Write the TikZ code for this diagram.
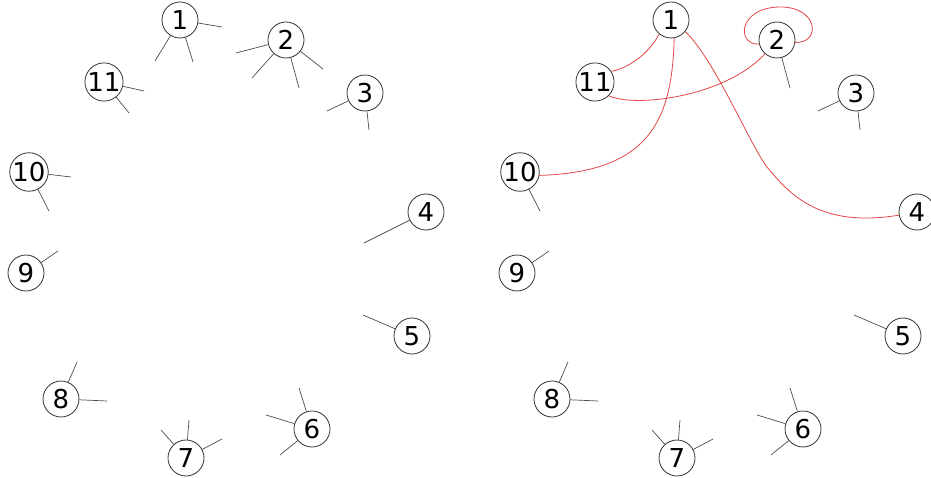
\documentclass[tikz,border=0pt]{standalone}
\usepackage{fontspec}
\setmainfont{DejaVu Sans}
\begin{document}
\begin{tikzpicture}[x=1pt,y=-1pt,
  vtx/.style={circle,draw=black!80,line width=0.8pt,fill=white,minimum size=36pt,inner sep=0pt,font=\fontsize{26}{26}\selectfont},
  stub/.style={draw=black!70,line width=0.7pt},
  redge/.style={draw={rgb,255:red,228;green,70;blue,70},line width=0.8pt}]
\useasboundingbox (0,0) rectangle (931,478);
% ---------- left graph ----------
\node[vtx] (a1) at (180,20) {1};
\node[vtx] (a2) at (286,40) {2};
\node[vtx] (a3) at (365,93) {3};
\node[vtx] (a4) at (426,212) {4};
\node[vtx] (a5) at (412,336) {5};
\node[vtx] (a6) at (312,429) {6};
\node[vtx] (a7) at (186,458) {7};
\node[vtx] (a8) at (61,399) {8};
\node[vtx] (a9) at (26,273) {9};
\node[vtx] (a10) at (29,172) {10};
\node[vtx] (a11) at (104,82) {11};
\foreach \n/\x/\y [count=\i] in {a1/222/27, a1/155/61, a1/193/62,
  a2/236/53, a2/252/78, a2/299/88, a2/323/69,
  a11/144/91, a11/129/113,
  a3/327/111, a3/369/130,
  a10/71/177, a10/49/211,
  a4/364/243, a9/58/251, a5/363/315,
  a8/77/362, a8/107/401,
  a7/161/430, a7/189/420, a7/222/439,
  a6/299/388, a6/266/415, a6/280/455}{
  \coordinate (s\i) at (\x,\y);
  \draw[stub] (\n) -- (s\i);
}
% ---------- right graph ----------
\node[vtx] (r1) at (671,20) {1};
\node[vtx] (r2) at (777,40) {2};
\node[vtx] (r3) at (856,93) {3};
\node[vtx] (r4) at (917,212) {4};
\node[vtx] (r5) at (903,336) {5};
\node[vtx] (r6) at (803,429) {6};
\node[vtx] (r7) at (677,458) {7};
\node[vtx] (r8) at (552,399) {8};
\node[vtx] (r9) at (517,273) {9};
\node[vtx] (r10) at (520,172) {10};
\node[vtx] (r11) at (595,82) {11};
\foreach \n/\x/\y [count=\i] in {r2/790/88,
  r3/818/111, r3/860/130,
  r10/540/211, r9/549/251, r5/854/315,
  r8/568/362, r8/598/401,
  r7/652/430, r7/680/420, r7/713/439,
  r6/790/388, r6/757/415, r6/771/455}{
  \coordinate (t\i) at (\x,\y);
  \draw[stub] (\n) -- (t\i);
}
% red edges
\draw[redge] (r1.230) .. controls (648,55) and (628,68) .. (r11.33);
\draw[redge] (r1.-80) .. controls (672,120) and (650,172) .. (r10.-10);
\coordinate (m14) at (767,167);
\draw[redge] (r1.-39) .. controls (715,60) and (750,145) .. (m14)
   .. controls (790,195) and (820,228) .. (r4.190);
\draw[redge] (r11.-45) .. controls (635,108) and (725,97) .. (r2.229);
\coordinate (top2) at (779,7);
\draw[redge] (r2.193) .. controls (736,45) and (738,8) .. (top2)
   .. controls (818,6) and (822,43) .. (r2.-8);
\end{tikzpicture}
\end{document}
